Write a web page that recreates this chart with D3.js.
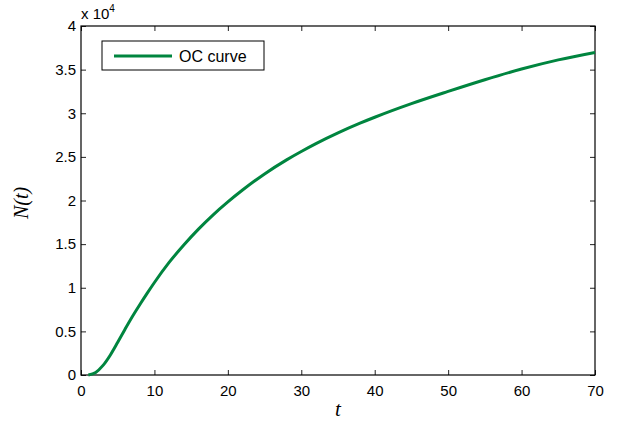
<!DOCTYPE html>
<html>
<head>
<meta charset="utf-8">
<script src="https://cdn.jsdelivr.net/npm/d3@7"></script>
<style>
  body { margin: 0; background: #fff; }
  svg { display: block; }
  .tick text { font-family: "Liberation Sans", Arial, sans-serif; font-size: 15px; fill: #000; }
  .tick line { stroke: #222; }
</style>
</head>
<body>
<svg id="chart" width="618" height="423"></svg>
<script>
// OC curve values, N(t) in units of 1e4
const tValues = [1, 2, 3, 4, 5, 6, 7, 8, 9, 10, 12, 14, 16, 18, 20, 22, 25, 28, 30, 32, 35, 38, 40, 45, 50, 55, 60, 65, 70];
const nValues = [0, 0.03, 0.11, 0.23, 0.375, 0.525, 0.67, 0.805, 0.935, 1.06, 1.29, 1.49, 1.672, 1.836, 1.984, 2.12, 2.305, 2.466, 2.562, 2.652, 2.775, 2.886, 2.954, 3.11, 3.25, 3.384, 3.507, 3.612, 3.697];
const xTicks = [0, 10, 20, 30, 40, 50, 60, 70];
const yTicks = [0, 0.5, 1, 1.5, 2, 2.5, 3, 3.5, 4];
const seriesName = 'OC curve';

const svg = d3.select('#chart');
const margin = { top: 26, right: 23, bottom: 48, left: 81 };
const width = 618 - margin.left - margin.right;
const height = 423 - margin.top - margin.bottom;

const g = svg.append('g').attr('transform', `translate(${margin.left},${margin.top})`);

const x = d3.scaleLinear().domain([0, 70]).range([0, width]);
const y = d3.scaleLinear().domain([0, 4]).range([height, 0]);

// axes with inward ticks
g.append('g')
    .attr('transform', `translate(0,${height})`)
    .call(d3.axisBottom(x).tickValues(xTicks).tickSize(-5).tickPadding(10).tickFormat(d3.format('d')))
    .call(a => a.select('.domain').remove());

g.append('g')
    .call(d3.axisLeft(y).tickValues(yTicks).tickSize(-5).tickPadding(5).tickFormat(d => String(d)))
    .call(a => a.select('.domain').remove());

g.append('g')
    .call(d3.axisTop(x).tickValues(xTicks).tickSize(-5).tickFormat(''))
    .call(a => a.select('.domain').remove());

g.append('g')
    .attr('transform', `translate(${width},0)`)
    .call(d3.axisRight(y).tickValues(yTicks).tickSize(-5).tickFormat(''))
    .call(a => a.select('.domain').remove());

// box
g.append('rect')
    .attr('width', width).attr('height', height)
    .attr('fill', 'none').attr('stroke', '#000').attr('stroke-width', 1.2);

// curve
const data = tValues.map((t, i) => ({ t, n: nValues[i] }));
const line = d3.line()
    .x(d => x(d.t))
    .y(d => y(d.n))
    .curve(d3.curveMonotoneX);

g.append('path')
    .datum(data)
    .attr('d', line)
    .attr('fill', 'none')
    .attr('stroke', '#00853f')
    .attr('stroke-width', 3);

// exponent label
const expo = svg.append('text')
    .attr('x', margin.left)
    .attr('y', 19)
    .attr('font-family', '"Liberation Sans", Arial, sans-serif')
    .attr('font-size', 15)
    .text('x 10');
expo.append('tspan')
    .attr('dy', -7)
    .attr('font-size', 10)
    .text('4');

// axis titles
svg.append('text')
    .attr('x', margin.left + width / 2)
    .attr('y', 416)
    .attr('text-anchor', 'middle')
    .attr('font-family', '"Liberation Serif", "Times New Roman", serif')
    .attr('font-style', 'italic')
    .attr('font-size', 21)
    .text('t');

svg.append('text')
    .attr('transform', 'translate(28,203) rotate(-90)')
    .attr('text-anchor', 'middle')
    .attr('font-family', '"Liberation Serif", "Times New Roman", serif')
    .attr('font-style', 'italic')
    .attr('font-size', 20)
    .text('N(t)');

// legend
const legend = g.append('g').attr('transform', 'translate(21,15)');
legend.append('rect')
    .attr('width', 162).attr('height', 29)
    .attr('fill', '#fff').attr('stroke', '#000').attr('stroke-width', 1);
legend.append('line')
    .attr('x1', 12).attr('x2', 70)
    .attr('y1', 15).attr('y2', 15)
    .attr('stroke', '#00853f').attr('stroke-width', 3);
legend.append('text')
    .attr('x', 77).attr('y', 20.5)
    .attr('font-family', '"Liberation Sans", Arial, sans-serif')
    .attr('font-size', 16)
    .text(seriesName);
</script>
</body>
</html>
